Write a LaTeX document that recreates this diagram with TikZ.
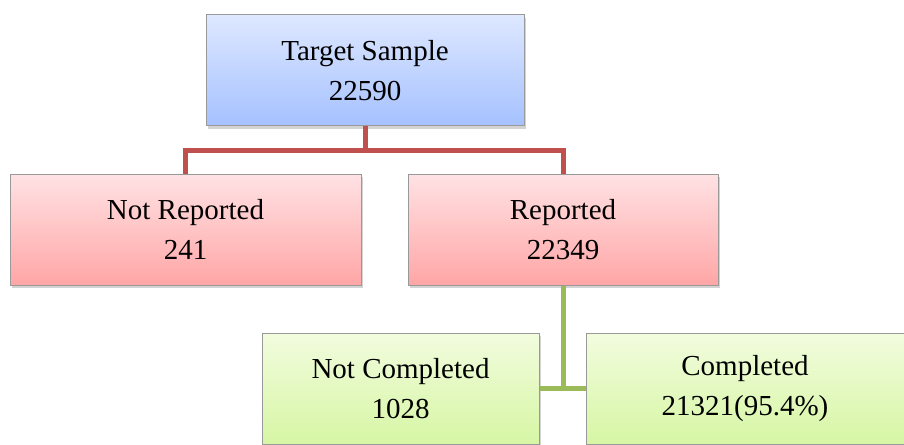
\documentclass[tikz,border=0pt]{standalone}
\usepackage{fontspec}
\setmainfont{Liberation Serif}
\usetikzlibrary{calc,shadows}

\definecolor{blueTop}{RGB}{222,232,255}
\definecolor{blueBot}{RGB}{165,193,255}
\definecolor{redTop}{RGB}{255,226,228}
\definecolor{redBot}{RGB}{255,166,166}
\definecolor{greenTop}{RGB}{242,252,222}
\definecolor{greenBot}{RGB}{214,246,164}
\definecolor{redLine}{RGB}{192,80,77}
\definecolor{greenLine}{RGB}{155,187,89}

\tikzset{
  box/.style={draw=gray!80, line width=0.5pt, minimum height=55.5pt,
    align=center, font=\fontsize{14.5pt}{20pt}\selectfont,
    drop shadow={shadow xshift=1.2pt, shadow yshift=-1.5pt, opacity=0.35}},
  bluebox/.style={box, top color=blueTop, bottom color=blueBot},
  redbox/.style={box, top color=redTop, bottom color=redBot},
  greenbox/.style={box, top color=greenTop, bottom color=greenBot},
  redlink/.style={draw=redLine, line width=2.5pt},
  greenlink/.style={draw=greenLine, line width=2.5pt}
}

\begin{document}
\begin{tikzpicture}[x=0.5pt, y=-0.5pt]
% canvas size
\useasboundingbox (0,0) rectangle (904,444);

\node[bluebox, minimum width=159pt] (target) at (365,70.5) {Target Sample\\22590};
\node[redbox, minimum width=175.5pt] (notrep) at (185.5,229.5) {Not Reported\\241};
\node[redbox, minimum width=155pt] (rep) at (563,229.5) {Reported\\22349};
\node[greenbox, minimum width=138.5pt] (notcomp) at (400.5,388.5) {Not Completed\\1028};
\node[greenbox, minimum width=159pt] (comp) at (745,388.5) {Completed\\21321(95.4\%)};

\coordinate (split) at ($(target.south)+(0,24)$);
\draw[redlink] (target.south) -- (split);
\draw[redlink] (split) -| (notrep.north);
\draw[redlink] (split) -| (rep.north);
\draw[greenlink] (rep.south) |- (notcomp.east);
\draw[greenlink] (rep.south) |- (comp.west);

\end{tikzpicture}
\end{document}
